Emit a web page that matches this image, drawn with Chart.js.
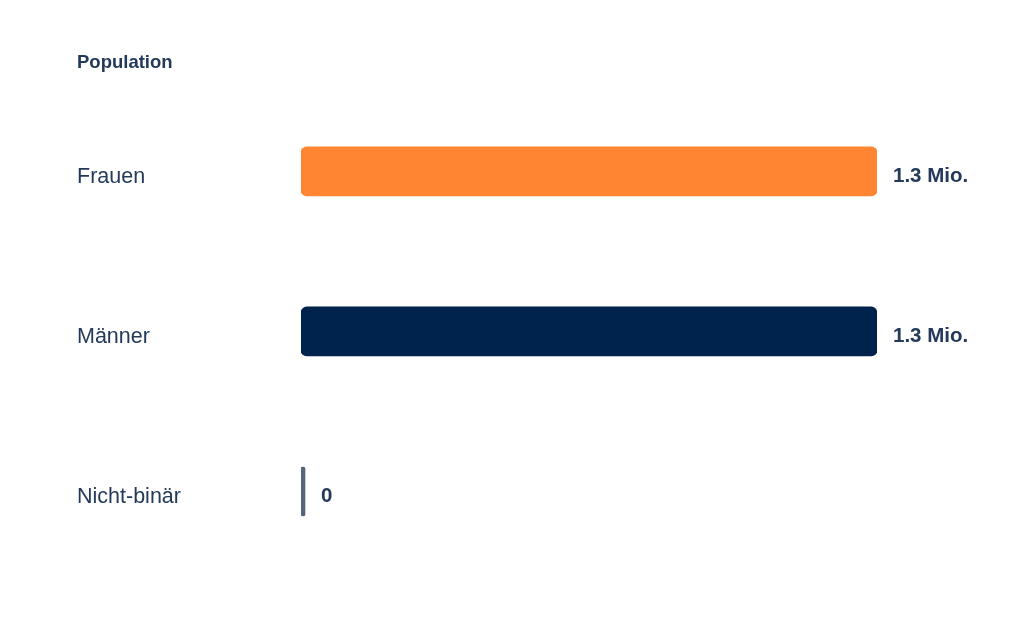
<!DOCTYPE html>
<html>
<head>
<meta charset="utf-8">
<script src="https://cdn.jsdelivr.net/npm/chart.js@4"></script>
<style>
  html, body { margin: 0; padding: 0; background: #fff; }
  #wrap { width: 1024px; height: 640px; }
</style>
</head>
<body>
<div id="wrap"><canvas id="chart"></canvas></div>
<script>
const categories = ['Frauen', 'Männer', 'Nicht-binär'];
const values = [1300000, 1300000, 0];
const valueLabels = ['1.3 Mio.', '1.3 Mio.', '0'];
const barColors = ['#ff8533', '#00234d', '#56647c'];

const textColor = '#233a5a';
const fontFamily = '"Liberation Sans", Arial, sans-serif';

// draw the value text right of each bar
const valueLabelPlugin = {
  id: 'valueLabels',
  afterDatasetsDraw(chart) {
    const ctx = chart.ctx;
    const meta = chart.getDatasetMeta(0);
    ctx.save();
    ctx.font = 'bold 20.5px ' + fontFamily;
    ctx.fillStyle = textColor;
    ctx.textBaseline = 'middle';
    ctx.textAlign = 'left';
    meta.data.forEach((bar, i) => {
      const end = Math.max(bar.x, bar.base + 4);
      ctx.fillText(valueLabels[i], end + 16, bar.y + 5);
    });
    ctx.restore();
  }
};

new Chart(document.getElementById('chart'), {
  type: 'bar',
  data: {
    labels: categories,
    datasets: [{
      data: values,
      backgroundColor: barColors,
      borderRadius: 6,
      borderSkipped: false,
      barThickness: 49,
      minBarLength: 4,
    }],
  },
  options: {
    indexAxis: 'y',
    responsive: true,
    maintainAspectRatio: false,
    animation: false,
    layout: { padding: { left: 77, right: 147, top: 45.5, bottom: 68.5 } },
    plugins: {
      legend: { display: false },
      tooltip: { enabled: false },
      title: {
        display: true,
        text: 'Population',
        align: 'start',
        color: textColor,
        font: { family: fontFamily, size: 18.5, weight: 'bold' },
        padding: { top: 6.7, bottom: 17 },
      },
    },
    scales: {
      x: {
        display: false,
        min: 0,
        max: 1300000,
      },
      y: {
        grid: { display: false },
        border: { display: false },
        afterFit(scale) { scale.width = 224; },
        ticks: {
          crossAlign: 'far',
          labelOffset: 6,
          color: textColor,
          font: { family: fontFamily, size: 21.5 },
        },
      },
    },
  },
  plugins: [valueLabelPlugin],
});
</script>
</body>
</html>
